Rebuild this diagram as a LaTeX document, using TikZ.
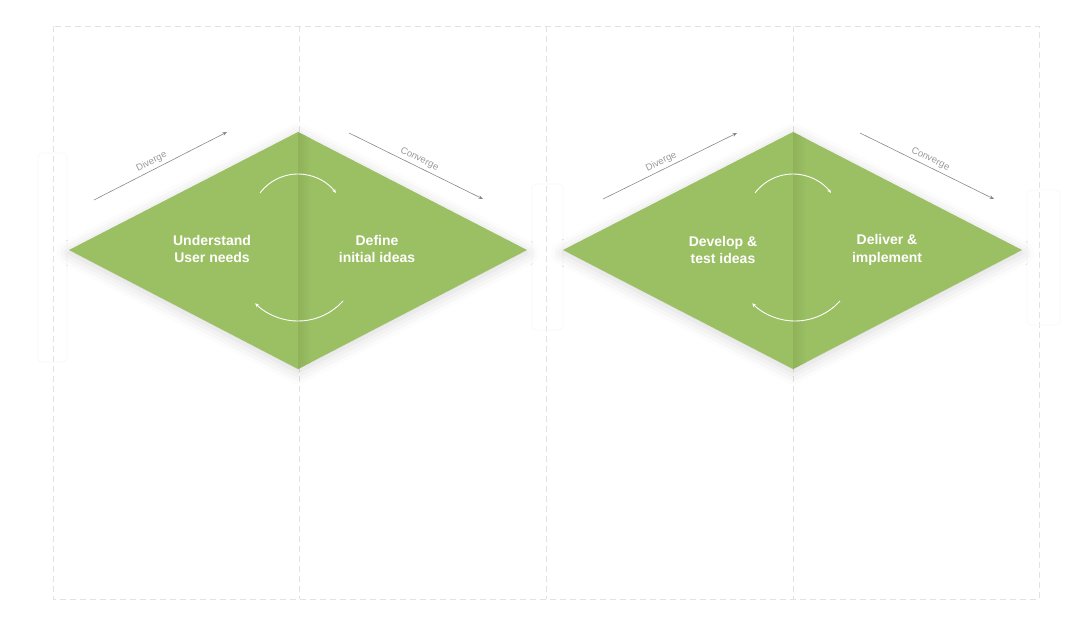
\documentclass[tikz,border=0pt]{standalone}
\usepackage{fontspec}
\setmainfont{Liberation Sans}
\usetikzlibrary{arrows.meta,shadows.blur}
\definecolor{leaf}{RGB}{155,191,99}
\definecolor{leafdark}{RGB}{143,178,90}
\definecolor{gridgray}{RGB}{226,226,226}
\definecolor{tipgray}{RGB}{135,135,135}

\begin{document}
\begin{tikzpicture}[x=1pt, y=-1pt,
    gridline/.style={gridgray, dash pattern=on 6pt off 4pt, line width=0.8pt},
    ghost/.style={draw=black!3, rounded corners=4pt, line width=0.8pt},
    dia/.style={fill=leaf, blur shadow={shadow xshift=0pt, shadow yshift=-3pt,
                shadow blur radius=12pt, shadow opacity=16}},
    ttl/.style={white, font=\fontsize{14}{17.5}\selectfont\bfseries, align=center},
    dirl/.style={-{Stealth[length=4.5pt, width=3.5pt]}, tipgray, line width=0.6pt},
    dtxt/.style={font=\fontsize{9.5}{11}\selectfont, tipgray!85, inner sep=3pt},
    turn/.style={white, line width=0.9pt, -{Stealth[length=4pt, width=3.5pt]}},
  ]
  \useasboundingbox (0,0) rectangle (1084,624);

  % dashed frame
  \draw[gridline] (53,26) rectangle (1039,599);
  \foreach \gx in {299,546,793}
    \draw[gridline] (\gx,26) -- (\gx,599);

  % faint tabs behind the tips
  \draw[ghost] (38,153) rectangle (67,362);
  \draw[ghost] (532,184) rectangle (563,330);
  \draw[ghost] (1027,190) rectangle (1060,325);

  % diamonds
  \coordinate (l1) at (69,250);   \coordinate (t1) at (298,132);
  \coordinate (r1) at (527,250);  \coordinate (b1) at (298,369);
  \coordinate (l2) at (563,250);  \coordinate (t2) at (793,132);
  \coordinate (r2) at (1022,250); \coordinate (b2) at (793,369);
  \fill[dia] (l1) -- (t1) -- (r1) -- (b1) -- cycle;
  \fill[dia] (l2) -- (t2) -- (r2) -- (b2) -- cycle;
  \begin{scope}
    \clip (l1) -- (t1) -- (r1) -- (b1) -- cycle;
    \shade[left color=leafdark, right color=leaf] (298,120) rectangle (311,380);
  \end{scope}
  \begin{scope}
    \clip (l2) -- (t2) -- (r2) -- (b2) -- cycle;
    \shade[left color=leafdark, right color=leaf] (793,120) rectangle (806,380);
  \end{scope}

  % stage titles
  \node[ttl] (und) at (212,249) {Understand\\User needs};
  \node[ttl] (def) at (377,249) {Define\\initial ideas};
  \node[ttl] (dev) at (723,250) {Develop \&\\test ideas};
  \node[ttl] (dlv) at (887,250) {Deliver \&\\implement};

  % diverge / converge
  \coordinate (dv1s) at (94,200);  \coordinate (dv1e) at (227,132);
  \coordinate (cv1s) at (349,133); \coordinate (cv1e) at (483,199);
  \coordinate (dv2s) at (603,199); \coordinate (dv2e) at (737,133);
  \coordinate (cv2s) at (860,133); \coordinate (cv2e) at (994,199);
  \draw[dirl] (dv1s) -- node[dtxt, sloped, above, pos=0.46] {Diverge} (dv1e);
  \draw[dirl] (cv1s) -- node[dtxt, sloped, above, pos=0.5] {Converge} (cv1e);
  \draw[dirl] (dv2s) -- node[dtxt, sloped, above, pos=0.46] {Diverge} (dv2e);
  \draw[dirl] (cv2s) -- node[dtxt, sloped, above, pos=0.5] {Converge} (cv2e);

  % cycle arrows
  \coordinate (up1) at (298,221.5);  \coordinate (dn1) at (298,260.4);
  \coordinate (up2) at (793,221.5);  \coordinate (dn2) at (795,260.4);
  \draw[turn] (up1) ++(-143:47.5) arc[start angle=-143, end angle=-37, radius=47.5];
  \draw[turn] (dn1) ++(42:60.6) arc[start angle=42, end angle=135, radius=60.6];
  \draw[turn] (up2) ++(-143:47.5) arc[start angle=-143, end angle=-37, radius=47.5];
  \draw[turn] (dn2) ++(42:60.6) arc[start angle=42, end angle=135, radius=60.6];
\end{tikzpicture}
\end{document}
